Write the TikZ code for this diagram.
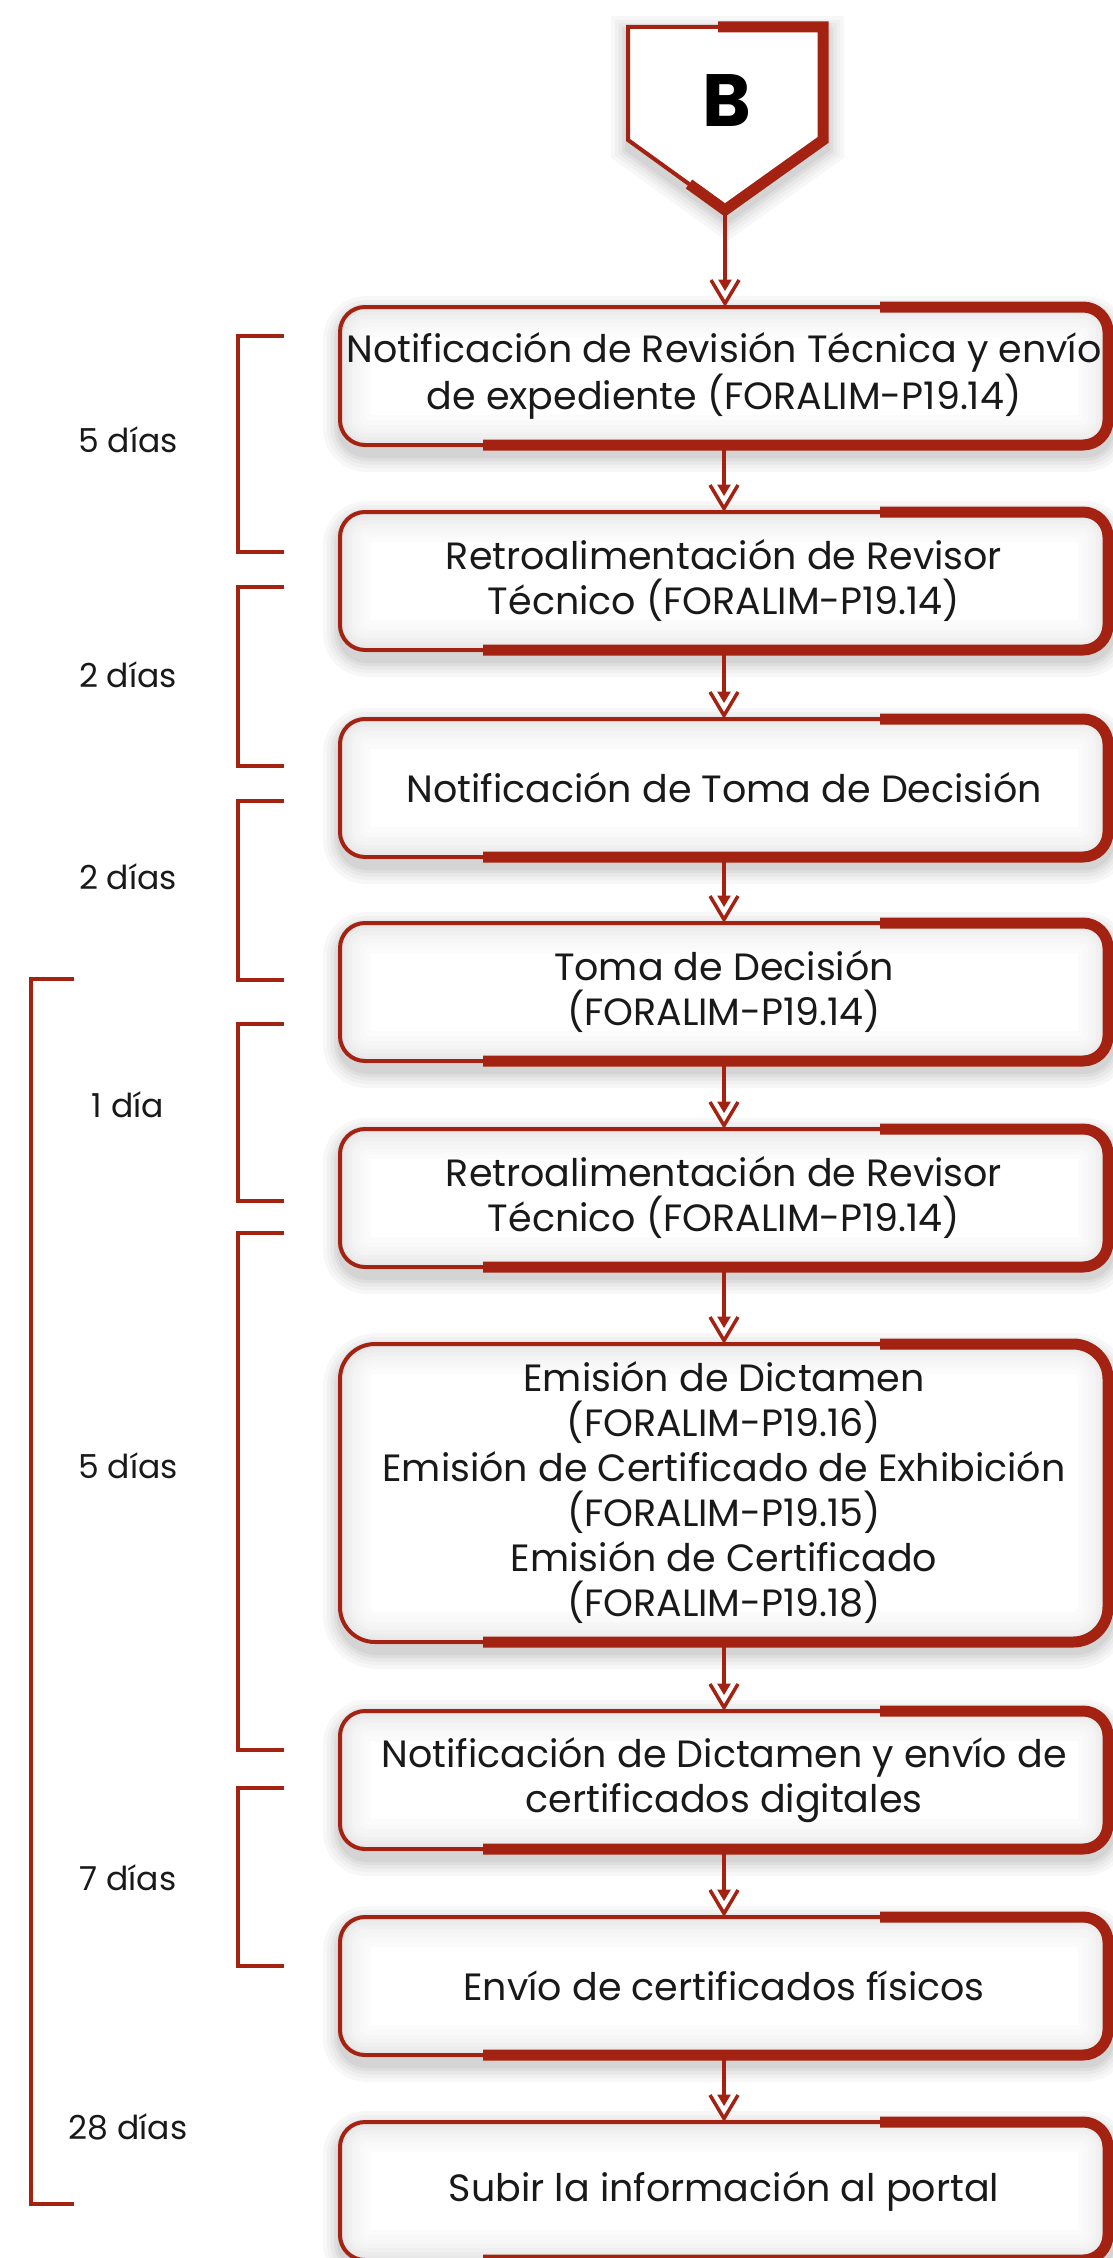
\documentclass[tikz,border=0pt]{standalone}
\usepackage{fontspec}
\setmainfont{Poppins}
\usetikzlibrary{arrows.meta}

\definecolor{rust}{RGB}{163,34,17}
\definecolor{ink}{RGB}{25,25,25}

% open V head with a small solid wedge at its back
\pgfdeclarearrow{
  name = VeeWedge,
  setup code = {
    \pgfarrowssettipend{0pt}
    \pgfarrowssetbackend{-27pt}
    \pgfarrowssetlineend{-25pt}
    \pgfarrowshullpoint{0pt}{0pt}
    \pgfarrowshullpoint{-27pt}{15pt}
    \pgfarrowshullpoint{-27pt}{-15pt}
  },
  drawing code = {
    \pgfsetdash{}{0pt}
    \pgfsetmiterjoin
    \pgfsetlinewidth{3.5pt}
    \pgfpathmoveto{\pgfqpoint{-27pt}{14pt}}
    \pgfpathlineto{\pgfqpoint{-3.5pt}{0pt}}
    \pgfpathlineto{\pgfqpoint{-27pt}{-14pt}}
    \pgfusepathqstroke
    \pgfsetfillcolor{rust}
    \pgfsetlinewidth{1pt}
    \pgfpathmoveto{\pgfqpoint{-27pt}{6pt}}
    \pgfpathlineto{\pgfqpoint{-17pt}{0pt}}
    \pgfpathlineto{\pgfqpoint{-27pt}{-6pt}}
    \pgfpathclose
    \pgfusepathqfillstroke
  }
}

\tikzset{
  softshadow/.style={
    preaction={draw=black!3, line width=38pt, transform canvas={shift={(2pt,-8pt)}}},
    preaction={draw=black!6, line width=30pt, transform canvas={shift={(2pt,-8pt)}}},
    preaction={draw=black!9, line width=23pt, transform canvas={shift={(2pt,-8pt)}}},
    preaction={draw=black!13, line width=16pt, transform canvas={shift={(2pt,-8pt)}}},
    preaction={draw=black!17, line width=10pt, transform canvas={shift={(2pt,-8pt)}}}},
  innershade/.style={path picture={
    \foreach \w/\g in {60/1.5, 50/2.5, 40/3.5, 32/4.5, 24/6, 16/7.5, 9/9}
      \draw[black!\g, line width=\w pt, rounded corners=#1]
        (path picture bounding box.south west) rectangle (path picture bounding box.north east);}},
  stepbox/.style={draw=rust, line width=4pt, rounded corners=25pt, fill=white, outer sep=0pt,
    minimum width=768pt, minimum height=138pt, align=center, text=ink,
    font=\fontsize{38}{45}\selectfont, softshadow, innershade=25pt},
  rimline/.style={draw=rust, line width=11pt, rounded corners=25pt},
  flow/.style={draw=rust, line width=4pt, -VeeWedge},
  brace/.style={draw=rust, line width=4.5pt},
  dias/.style={text=ink, font=\fontsize{33}{40}\selectfont},
}

% heavy part of the outline, top right round to bottom left
\newcommand{\thickrim}[2][25pt]{%
  \draw[rimline, rounded corners=#1] ([xshift=-228pt]#2.north east) -- (#2.north east)
    -- (#2.south east) -- ([xshift=143pt]#2.south west);}

\begin{document}
\begin{tikzpicture}[x=1pt, y=-1pt]
  \useasboundingbox (0,0) rectangle (1112,2258);

  % connector B
  \draw[draw=rust, line width=4pt, fill=white, softshadow]
    (628,27) -- (823,27) -- (823,140) -- (725,210) -- (628,140) -- cycle;
  \draw[rimline, sharp corners] (718,27) -- (823,27) -- (823,140) -- (725,210) -- (689,184);
  \node[text=black, font=\fontsize{74}{74}\selectfont\bfseries] (B) at (727,101) {B};
  \coordinate (Bpt) at (725,212);

  % steps
  \node[stepbox] (n1) at (724,376) {Notificación de Revisión Técnica y envío\\de expediente (FORALIM-P19.14)};
  \node[stepbox] (n2) at (724,581) {Retroalimentación de Revisor\\Técnico (FORALIM-P19.14)};
  \node[stepbox] (n3) at (724,788) {Notificación de Toma de Decisión};
  \node[stepbox] (n4) at (724,992) {Toma de Decisión\\(FORALIM-P19.14)};
  \node[stepbox] (n5) at (724,1198) {Retroalimentación de Revisor\\Técnico (FORALIM-P19.14)};
  \node[stepbox, rounded corners=35pt, innershade=35pt, minimum height=298pt] (n6) at (724,1493)
    {Emisión de Dictamen\\(FORALIM-P19.16)\\Emisión de Certificado de Exhibición\\(FORALIM-P19.15)\\Emisión de Certificado\\(FORALIM-P19.18)};
  \node[stepbox] (n7) at (724,1780) {Notificación de Dictamen y envío de\\certificados digitales};
  \node[stepbox] (n8) at (724,1986) {Envío de certificados físicos};
  \node[stepbox] (n9) at (724,2191) {Subir la información al portal};

  \foreach \n in {n1,n2,n3,n4,n5,n7,n8,n9}
    \thickrim{\n};
  \thickrim[35pt]{n6};

  \draw[flow] (Bpt) -- (Bpt |- n1.north);
  \foreach \a/\b in {n1/n2, n2/n3, n3/n4, n4/n5, n5/n6, n6/n7, n7/n8, n8/n9}
    \draw[flow] (\a) -- (\b);

  % time brackets
  \foreach \top/\bot/\mid/\txt in {336/552/440/5 días, 587/766/675/2 días, 801/980/877/2 días,
      1024/1201/1105/1 día, 1233/1750/1466/5 días, 1788/1966/1878/7 días} {
    \draw[brace] (284,\top) -- (238,\top) -- (238,\bot) -- (284,\bot);
    \node[dias] at (128,\mid) {\txt};
  }
  \draw[brace] (74,979) -- (31,979) -- (31,2204) -- (74,2204);
  \node[dias] (total) at (128,2127) {28 días};
\end{tikzpicture}
\end{document}
